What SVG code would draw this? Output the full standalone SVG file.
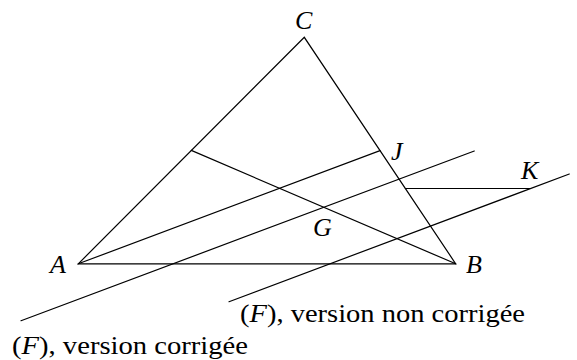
<svg xmlns="http://www.w3.org/2000/svg" width="577" height="360" viewBox="0 0 577 360">
<style>
.ln{stroke:#000;stroke-width:1.2;fill:none;stroke-linecap:round}
.pt{font-style:italic;font-size:26px;fill:#000}
.tx{font-size:26px;fill:#000}
.it{font-style:italic}
</style>
<rect width="577" height="360" fill="#fff"/>
<g id="connectors">
<polygon class="ln" points="78.3,263.8 455.7,263.8 304.3,37.3" stroke-linejoin="miter"/>
<line class="ln" x1="78.3" y1="263.8" x2="380" y2="150.6"/>
<line class="ln" x1="191.3" y1="150.4" x2="455.7" y2="263.8"/>
<line class="ln" x1="21" y1="320.7" x2="474.3" y2="151"/>
<line class="ln" x1="229" y1="301.7" x2="569.3" y2="174"/>
<line class="ln" x1="405.4" y1="188.5" x2="530" y2="188.5"/>
</g>
<g font-family="'Liberation Serif', 'DejaVu Serif', 'Times New Roman', serif">
<g id="node-A"><text class="pt" x="50" y="273">A</text></g>
<g id="node-B"><text class="pt" x="466" y="273">B</text></g>
<g id="node-C"><text class="pt" x="295" y="29">C</text></g>
<g id="node-J"><text class="pt" x="391" y="160">J</text></g>
<g id="node-G"><text class="pt" x="313" y="236">G</text></g>
<g id="node-K"><text class="pt" x="521" y="179">K</text></g>
<g id="label-noncorr"><text class="tx" x="240" y="322" textLength="285" lengthAdjust="spacingAndGlyphs">(<tspan class="it">F</tspan>), version non corrigée</text></g>
<g id="label-corr"><text class="tx" x="12" y="354" textLength="236" lengthAdjust="spacingAndGlyphs">(<tspan class="it">F</tspan>), version corrigée</text></g>
</g>
</svg>
